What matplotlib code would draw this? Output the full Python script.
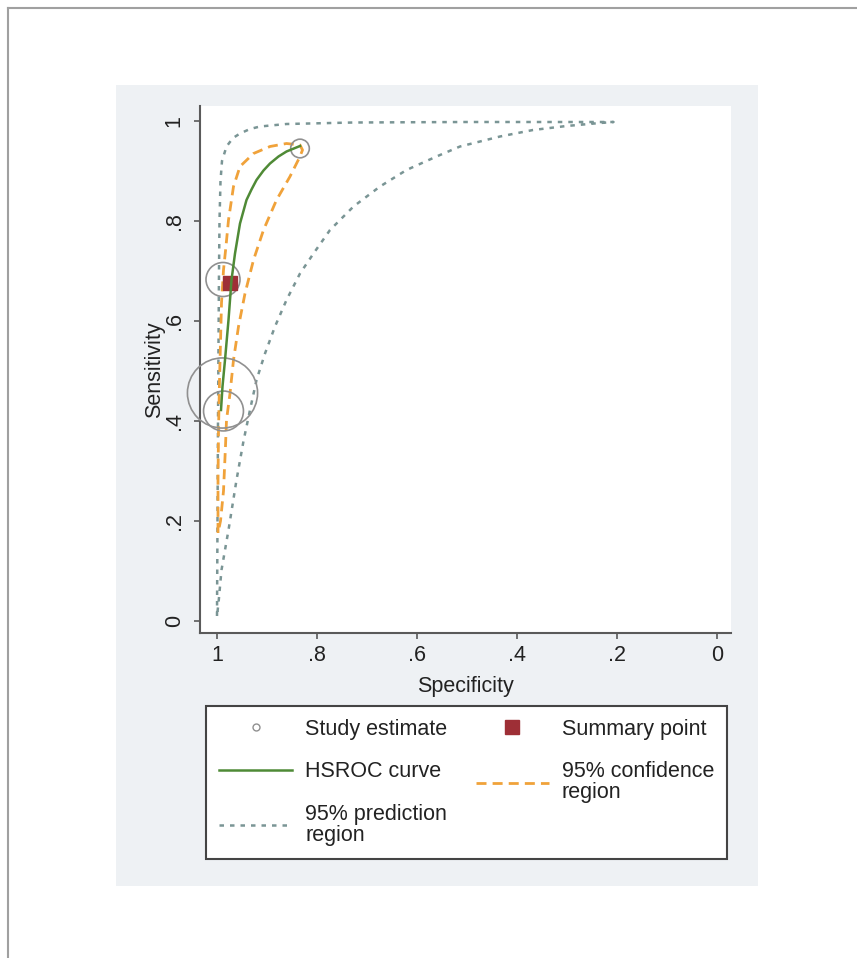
import matplotlib
matplotlib.use("Agg")
import matplotlib.pyplot as plt
from matplotlib.lines import Line2D
from matplotlib.patches import Rectangle

plt.rcParams['font.family'] = ['Liberation Sans', 'DejaVu Sans']

# Study estimates (specificity, sensitivity, relative weight -> circle area)
study_spec = [0.834, 0.988, 0.989, 0.987]
study_sens = [0.945, 0.683, 0.456, 0.420]
study_weight = [1.2, 4.0, 17.0, 5.5]

# Summary point
summary_spec = [0.975]
summary_sens = [0.677]

# HSROC curve
hsroc_spec = [0.992, 0.989, 0.984, 0.977, 0.971, 0.964, 0.954, 0.941, 0.931,
              0.921, 0.907, 0.894, 0.877, 0.861, 0.834]
hsroc_sens = [0.422, 0.469, 0.522, 0.602, 0.682, 0.735, 0.795, 0.842, 0.863,
              0.882, 0.901, 0.915, 0.929, 0.939, 0.950]

# 95% confidence region (closed loop: upper/left branch then lower/right branch)
conf_spec = [0.998, 0.998, 0.997, 0.995, 0.991, 0.987, 0.982, 0.977, 0.967,
             0.954, 0.927, 0.894, 0.861, 0.834, 0.829,
             0.834, 0.854, 0.881, 0.907, 0.927, 0.944, 0.957, 0.967, 0.974,
             0.981, 0.983, 0.987, 0.993, 0.998]
conf_sens = [0.176, 0.280, 0.380, 0.480, 0.636, 0.702, 0.750, 0.802, 0.869,
             0.909, 0.935, 0.949, 0.955, 0.952, 0.942,
             0.929, 0.889, 0.842, 0.782, 0.722, 0.655, 0.589, 0.522, 0.455,
             0.402, 0.350, 0.260, 0.200, 0.176]

# 95% prediction region (closed loop)
pred_spec = [1.000, 0.999, 0.998, 0.997, 0.996, 0.995, 0.993, 0.990, 0.981,
             0.968, 0.954, 0.934, 0.914, 0.861, 0.727, 0.500, 0.300, 0.207,
             0.234, 0.301, 0.368, 0.434, 0.514, 0.561, 0.621, 0.674, 0.727,
             0.774, 0.807, 0.834, 0.861, 0.884, 0.904, 0.921, 0.934, 0.947,
             0.961, 0.977, 0.991, 0.997, 1.000]
pred_sens = [0.010, 0.200, 0.400, 0.550, 0.700, 0.800, 0.880, 0.920, 0.949,
             0.966, 0.975, 0.984, 0.989, 0.994, 0.997, 0.998, 0.998, 0.998,
             0.996, 0.990, 0.982, 0.969, 0.949, 0.929, 0.902, 0.869, 0.829,
             0.782, 0.735, 0.695, 0.642, 0.589, 0.535, 0.482, 0.422, 0.360,
             0.282, 0.182, 0.102, 0.036, 0.010]

ticks = [1, 0.8, 0.6, 0.4, 0.2, 0]
tick_labels = ["1", ".8", ".6", ".4", ".2", "0"]

W, H = 857, 958
fig = plt.figure(figsize=(W / 100, H / 100), dpi=100, facecolor='white')

# outer frame lines and grey graph region
fig.add_artist(Line2D([8 / W, 1], [1 - 8 / H, 1 - 8 / H], color='#a0a0a0', lw=1.5))
fig.add_artist(Line2D([8 / W, 8 / W], [0, 1 - 8 / H], color='#a0a0a0', lw=1.5))
fig.add_artist(Rectangle((116 / W, 1 - 886 / H), (758 - 116) / W, (886 - 85) / H,
                         facecolor='#eef1f4', edgecolor='none', zorder=0))

ax = fig.add_axes([200 / W, 1 - 633 / H, 531 / W, 527 / H])
ax.set_facecolor('white')

pred_style = dict(color='#7a9595', lw=1.8, linestyle=(0, (1.8, 2.4)))
conf_style = dict(color='#f0a23a', lw=2.0, linestyle=(0, (3.6, 2.2)))
hsroc_style = dict(color='#4f8a36', lw=1.8)

ax.plot(pred_spec, pred_sens, zorder=2, **pred_style)
ax.plot(conf_spec, conf_sens, zorder=3, **conf_style)
ax.scatter(study_spec, study_sens, s=[150 * w for w in study_weight],
           facecolors='none', edgecolors='#909090', linewidths=1.2, zorder=4,
           clip_on=False)
ax.plot(summary_spec, summary_sens, 's', color='#9e2f36', ms=10.5, zorder=5)
ax.plot(hsroc_spec, hsroc_sens, zorder=6, **hsroc_style)

ax.set_xlim(1.034, -0.028)
ax.set_ylim(-0.024, 1.03)
ax.set_xticks(ticks)
ax.set_xticklabels(tick_labels)
ax.set_yticks(ticks)
ax.set_yticklabels(tick_labels, rotation=90, va='center')

for s in ['top', 'right']:
    ax.spines[s].set_visible(False)
for s in ['left', 'bottom']:
    ax.spines[s].set_color('#5a5a5a')
    ax.spines[s].set_linewidth(1.5)
ax.tick_params(axis='both', direction='out', length=4.5, width=1.2, color='#5a5a5a',
               labelsize=15.5, labelcolor='#222222')
ax.tick_params(axis='y', pad=6.5)
ax.tick_params(axis='x', pad=4)
ax.set_xlabel('Specificity', fontsize=15.5, color='#222222', labelpad=7.5)
ax.set_ylabel('Sensitivity', fontsize=15.5, color='#222222', labelpad=-1)

handles = [
    Line2D([], [], marker='o', ls='none', mfc='none', mec='#909090', ms=5, mew=1.0),
    Line2D([], [], **hsroc_style),
    Line2D([], [], **pred_style),
    Line2D([], [], marker='s', ls='none', color='#9e2f36', ms=10.5),
    Line2D([], [], **conf_style),
]
labels = ['Study estimate', 'HSROC curve', '95% prediction\nregion',
          'Summary point', '95% confidence\nregion']
leg = fig.legend(handles, labels, ncol=2, loc='upper left',
                 bbox_to_anchor=(206 / W, 1 - 706 / H, 521 / W, 0.0001), mode='expand',
                 borderaxespad=0, fontsize=15.5, frameon=True, fancybox=False,
                 edgecolor='#444444', framealpha=1, borderpad=0.6, labelspacing=1.0,
                 handlelength=3.4, handletextpad=0.6, columnspacing=1.0)
leg.get_frame().set_linewidth(1.5)
for t in leg.get_texts():
    t.set_linespacing(1.0)
    t.set_color('#222222')

fig.savefig('out.png', dpi=100, facecolor='white')
